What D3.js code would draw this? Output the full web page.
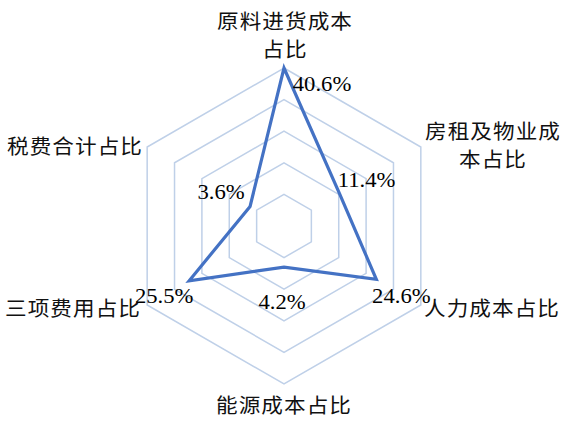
<!DOCTYPE html>
<html><head><meta charset="utf-8">
<script src="https://cdn.jsdelivr.net/npm/d3@7"></script>
<style>html,body{margin:0;padding:0;background:#fff;}svg{display:block;}</style>
</head><body>
<svg id="chart" width="567" height="422"></svg>
<script>
const categories = ["原料进货成本占比","房租及物业成本占比","人力成本占比","能源成本占比","三项费用占比","税费合计占比"];
const values = [40.6, 11.4, 24.6, 4.2, 25.5, 3.6];
const valueLabels = ["40.6%","11.4%","24.6%","4.2%","25.5%","3.6%"];
const categoryLines = [["原料进货成本","占比"],["房租及物业成","本占比"],["人力成本占比"],["能源成本占比"],["三项费用占比"],["税费合计占比"]];

const axisMin = -8.6, axisMax = 40.6, ringCount = 5;
const cx = 284, cy = 226, R = 158;
const svg = d3.select("#chart");
const r = d3.scaleLinear().domain([axisMin, axisMax]).range([0, R]);
const n = categories.length;
const ang = i => -Math.PI/2 + i * 2*Math.PI/n;
const pt = (i, rad) => [cx + rad*Math.cos(ang(i)), cy + rad*Math.sin(ang(i))];

// grid rings
const ringVals = d3.range(1, ringCount+1).map(k => axisMin + k*(axisMax-axisMin)/ringCount);
svg.append("g").selectAll("path").data(ringVals).join("path")
  .attr("d", v => d3.line()(d3.range(n).map(i => pt(i, r(v)))) + "Z")
  .attr("fill","none").attr("stroke","#bfd0e8").attr("stroke-width",1.5);

// data polygon
svg.append("path")
  .attr("d", d3.line()(values.map((v,i)=>pt(i, r(v)))) + "Z")
  .attr("fill","none").attr("stroke","#4472c4").attr("stroke-width",3.2).attr("stroke-linejoin","miter");

// data labels
const labelOffsets = [[38,16],[27,-14],[25,17],[-2,35],[-25,16],[-29,-14]];
svg.append("g").selectAll("text").data(values).join("text")
  .attr("transform",(v,i)=>{const p=pt(i,r(v));return `translate(${p[0]+labelOffsets[i][0]},${p[1]+labelOffsets[i][1]}) scale(1.08,1)`;})
  .attr("text-anchor","middle").attr("dominant-baseline","central")
  .attr("font-family","'Liberation Serif','Times New Roman',serif").attr("font-size",21)
  .attr("fill","#000").text((v,i)=>valueLabels[i]);

// category labels
const catPos = [[285,20],[493,130],[492,307],[284,404],[73,307],[75,145]];
const lineH = 28;
const cg = svg.append("g").attr("font-family","'Noto Sans CJK SC',sans-serif").attr("font-size",20).attr("fill","#111");
categoryLines.forEach((lines,i)=>{
  lines.forEach((t,j)=>{
    cg.append("text")
      .attr("transform",`translate(${catPos[i][0]},${catPos[i][1]+j*lineH}) scale(1.08,1)`)
      .attr("text-anchor","middle").attr("dominant-baseline","central")
      .attr("letter-spacing",1)
      .text(t);
  });
});
</script>
</body></html>
